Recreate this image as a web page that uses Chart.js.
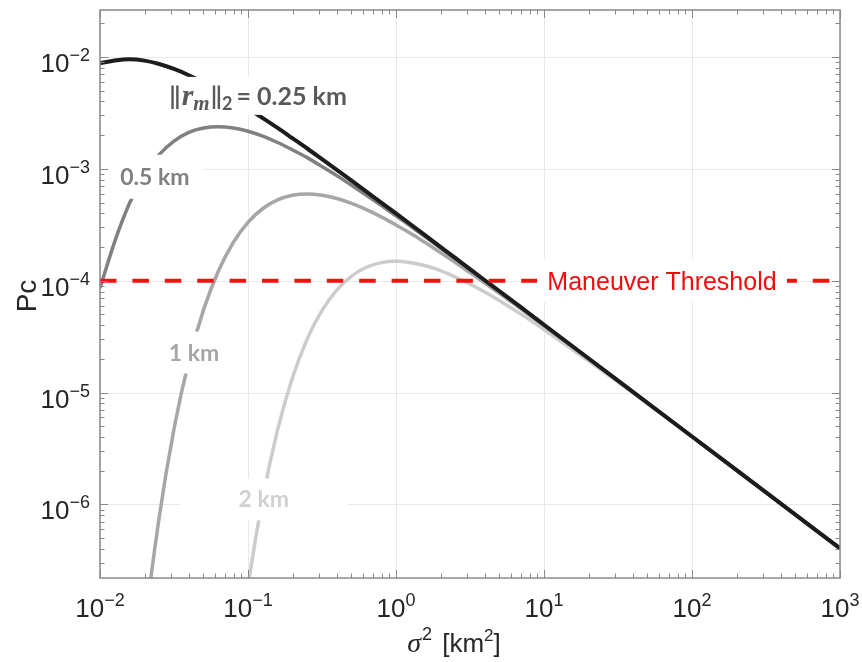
<!DOCTYPE html>
<html>
<head>
<meta charset="utf-8">
<script src="https://cdn.jsdelivr.net/npm/chart.js"></script>
<style>
  html, body { margin: 0; padding: 0; background: #fff; }
  #wrap { width: 862px; height: 662px; }
</style>
</head>
<body>
<div id="wrap"><canvas id="pcChart" width="862" height="662"></canvas></div>
<script>
// sigma^2 [km^2] sample points (log spaced)
const sigma2 = [0.01, 0.01259, 0.01585, 0.01995, 0.02512, 0.03162, 0.03981, 0.05012, 0.0631, 0.07943,
  0.1, 0.1259, 0.1585, 0.1995, 0.2512, 0.3162, 0.3981, 0.5012, 0.631, 0.7943,
  1, 1.259, 1.585, 1.995, 2.512, 3.162, 3.981, 5.012, 6.31, 7.943,
  10, 31.62, 100, 316.2, 1000];

// Pc, one list per miss distance
const pc025 = [8.8e-3, 9.3e-3, 9.54e-3, 9.28e-3, 8.66e-3, 7.81e-3, 6.87e-3, 5.92e-3, 5.01e-3, 4.19e-3,
  3.46e-3, 2.84e-3, 2.32e-3, 1.88e-3, 1.52e-3, 1.22e-3, 9.78e-4, 7.83e-4, 6.26e-4, 5.00e-4,
  3.99e-4, 3.18e-4, 2.53e-4, 2.01e-4, 1.60e-4, 1.27e-4, 1.01e-4, 8.05e-5, 6.40e-5, 5.09e-5,
  4.04e-5, 1.28e-5, 4.05e-6, 1.28e-6, 4.05e-7];
const pc05 = [8.6e-5, 2.25e-4, 4.95e-4, 8.85e-4, 1.34e-3, 1.77e-3, 2.12e-3, 2.32e-3, 2.38e-3, 2.32e-3,
  2.17e-3, 1.96e-3, 1.72e-3, 1.48e-3, 1.26e-3, 1.05e-3, 8.70e-4, 7.13e-4, 5.81e-4, 4.71e-4,
  3.81e-4, 3.06e-4, 2.46e-4, 1.97e-4, 1.57e-4, 1.26e-4, 1.00e-4, 7.98e-5, 6.36e-5, 5.06e-5,
  4.02e-5, 1.28e-5, 4.05e-6, 1.28e-6, 4.05e-7];
const pc1 = [null, null, 3.6e-9, 7.34e-8, 7.67e-7, 4.72e-6, 1.91e-5, 5.51e-5, 1.22e-4, 2.19e-4,
  3.32e-4, 4.42e-4, 5.28e-4, 5.80e-4, 5.96e-4, 5.81e-4, 5.43e-4, 4.91e-4, 4.32e-4, 3.72e-4,
  3.15e-4, 2.64e-4, 2.18e-4, 1.79e-4, 1.46e-4, 1.18e-4, 9.55e-5, 7.69e-5, 6.17e-5, 4.94e-5,
  3.95e-5, 1.27e-5, 4.04e-6, 1.28e-6, 4.05e-7];
const pc2 = [null, null, null, null, null, null, null, null, 8.4e-10, 1.74e-8,
  1.84e-7, 1.14e-6, 4.65e-6, 1.35e-5, 3.01e-5, 5.42e-5, 8.25e-5, 1.10e-4, 1.32e-4, 1.45e-4,
  1.49e-4, 1.45e-4, 1.36e-4, 1.23e-4, 1.08e-4, 9.34e-5, 7.91e-5, 6.62e-5, 5.48e-5, 4.50e-5,
  3.66e-5, 1.24e-5, 4.01e-6, 1.28e-6, 4.05e-7];

const thresholdX = [0.01, 1000];
const thresholdY = [1e-4, 1e-4];

const xTicks = [1e-2, 1e-1, 1, 10, 100, 1000];
const xTickExp = ['\u22122', '\u22121', '0', '1', '2', '3'];
const yTicks = [1e-2, 1e-3, 1e-4, 1e-5, 1e-6];
const yTickExp = ['\u22122', '\u22123', '\u22124', '\u22125', '\u22126'];

const NARROW = '"Liberation Sans Narrow", "Liberation Sans", Arial, sans-serif';
const SANS = '"Liberation Sans", Arial, sans-serif';
const LBL = 'Lato, "Open Sans", "DejaVu Sans", sans-serif';

function pts(xs, ys) {
  return xs.map((v, i) => ({ x: v, y: ys[i] }));
}

// rich text: list of runs drawn left to right
function drawRuns(ctx, runs, x0, baseY, align) {
  let total = 0;
  runs.forEach(r => { ctx.font = r.font; r.w = ctx.measureText(r.t).width + (r.pad || 0); total += r.w; });
  let px = align === 'right' ? x0 - total : (align === 'left' ? x0 : x0 - total / 2);
  runs.forEach(r => {
    ctx.font = r.font;
    ctx.fillStyle = r.color;
    ctx.textAlign = 'left';
    ctx.textBaseline = 'alphabetic';
    ctx.fillText(r.t, px, baseY + (r.dy || 0));
    px += r.w;
  });
}

const c25 = '#595959';
const curveLabels = [
  { x: 0.117, y: 4.49e-3, w: 197, h: 38, base: 9, runs: [
    { t: '\u2016', font: 'bold 25px ' + LBL, color: c25, pad: 1 },
    { t: 'r', font: 'bold italic 30px "Liberation Serif", serif', color: c25 },
    { t: 'm', font: 'bold italic 21px "Liberation Serif", serif', color: c25, dy: 5, pad: 1 },
    { t: '\u2016', font: 'bold 25px ' + LBL, color: c25 },
    { t: '2', font: 'bold 18px ' + LBL, color: c25, dy: 5, pad: 4 },
    { t: '= ', font: 'bold 25px ' + LBL, color: c25 },
    { t: '0.25 km', font: 'bold 25px ' + LBL, color: c25 }
  ] },
  { x: 0.0235, y: 8.49e-4, w: 96, h: 44, base: 8, runs: [{ t: '0.5 km', font: 'bold 23px ' + LBL, color: '#808080' }] },
  { x: 0.0432, y: 2.28e-5, w: 86, h: 42, base: 8, runs: [{ t: '1 km', font: 'bold 23px ' + LBL, color: '#a6a6a6' }] },
  { x: 0.128, y: 1.11e-6, w: 168, h: 42, base: 8, runs: [{ t: '2 km', font: 'bold 23px ' + LBL, color: '#d0d0d0' }] },
  { x: 62.7, y: 1e-4, w: 250, h: 43, base: 9, runs: [{ t: 'Maneuver Threshold', font: '25px ' + SANS, color: '#f00d0d' }] }
];

const decor = {
  id: 'decor',
  beforeDatasetsDraw(chart) {
    const { ctx, chartArea: a, scales: { x, y } } = chart;
    ctx.save();
    ctx.strokeStyle = '#e8e8e8';
    ctx.lineWidth = 1;
    ctx.beginPath();
    xTicks.forEach(v => {
      const px = Math.round(x.getPixelForValue(v)) + 0.5;
      ctx.moveTo(px, a.top); ctx.lineTo(px, a.bottom);
    });
    yTicks.forEach(v => {
      const py = Math.round(y.getPixelForValue(v)) + 0.5;
      ctx.moveTo(a.left, py); ctx.lineTo(a.right, py);
    });
    ctx.stroke();
    ctx.restore();
  },
  afterDatasetsDraw(chart) {
    const { ctx, chartArea: a, scales: { x, y } } = chart;
    ctx.save();

    // curve labels on white boxes
    curveLabels.forEach(l => {
      const cx = x.getPixelForValue(l.x), cy = y.getPixelForValue(l.y);
      ctx.fillStyle = '#fff';
      ctx.fillRect(cx - l.w / 2, cy - l.h / 2, l.w, l.h);
      drawRuns(ctx, l.runs, cx, cy + l.base, 'center');
    });

    // axes box + inward ticks on all four sides
    ctx.strokeStyle = '#888';
    ctx.lineWidth = 1.5;
    ctx.strokeRect(a.left, a.top, a.right - a.left, a.bottom - a.top);
    ctx.lineWidth = 1;
    ctx.beginPath();
    for (let d = -2; d <= 3; d++) {
      for (let m = 1; m <= 9; m++) {
        const v = m * Math.pow(10, d);
        if (v > 1000.0001) break;
        const px = Math.round(x.getPixelForValue(v)) + 0.5;
        const len = m === 1 ? 8 : 4.5;
        ctx.moveTo(px, a.bottom); ctx.lineTo(px, a.bottom - len);
        ctx.moveTo(px, a.top); ctx.lineTo(px, a.top + len);
      }
    }
    for (let d = -7; d <= -2; d++) {
      for (let m = 1; m <= 9; m++) {
        const v = m * Math.pow(10, d);
        if (v < y.min || v > y.max) continue;
        const py = Math.round(y.getPixelForValue(v)) + 0.5;
        const len = m === 1 ? 8 : 4.5;
        ctx.moveTo(a.left, py); ctx.lineTo(a.left + len, py);
        ctx.moveTo(a.right, py); ctx.lineTo(a.right - len, py);
      }
    }
    ctx.stroke();

    // tick labels 10^n
    const tk = '#262626';
    xTicks.forEach((v, i) => {
      const px = x.getPixelForValue(v);
      drawRuns(ctx, [
        { t: '10', font: '26px ' + NARROW, color: tk },
        { t: xTickExp[i], font: '18px ' + NARROW, color: tk, dy: -11 }
      ], px, a.bottom + 39, 'center');
    });
    yTicks.forEach((v, i) => {
      const py = y.getPixelForValue(v);
      drawRuns(ctx, [
        { t: '10', font: '26px ' + NARROW, color: tk },
        { t: yTickExp[i], font: '18px ' + NARROW, color: tk, dy: -11 }
      ], a.left - 10, py + 15, 'right');
    });

    // axis titles
    drawRuns(ctx, [
      { t: '\u03c3', font: 'italic 28px "Liberation Serif", serif', color: tk, pad: 1 },
      { t: '2', font: '18px ' + SANS, color: tk, dy: -12, pad: 3 },
      { t: ' [km', font: '26px ' + SANS, color: tk },
      { t: '2', font: '17px ' + SANS, color: tk, dy: -11 },
      { t: ']', font: '26px ' + SANS, color: tk }
    ], 454, 652, 'center');

    ctx.translate(36, 296);
    ctx.rotate(-Math.PI / 2);
    drawRuns(ctx, [{ t: 'Pc', font: '28px ' + NARROW, color: tk }], 0, 0, 'center');

    ctx.restore();
  }
};

new Chart('pcChart', {
  type: 'line',
  data: {
    datasets: [
      { data: pts(thresholdX, thresholdY), borderColor: '#f50f0f', borderWidth: 4, borderDash: [16.5, 15.9], tension: 0 },
      { data: pts(sigma2, pc025), borderColor: '#1c1c1c', borderWidth: 4 },
      { data: pts(sigma2, pc05), borderColor: '#808080', borderWidth: 3.5 },
      { data: pts(sigma2, pc1), borderColor: '#a6a6a6', borderWidth: 3.5 },
      { data: pts(sigma2, pc2), borderColor: '#cccccc', borderWidth: 3.5 }
    ]
  },
  options: {
    responsive: false,
    animation: false,
    devicePixelRatio: 1,
    layout: { padding: { top: 10, right: 22, left: 0, bottom: 0 } },
    plugins: { legend: { display: false }, tooltip: { enabled: false } },
    elements: {
      point: { radius: 0 },
      line: { cubicInterpolationMode: 'monotone', fill: false }
    },
    datasets: { line: { clip: 0 } },
    scales: {
      x: {
        type: 'logarithmic', min: 0.01, max: 1000,
        ticks: { display: false }, grid: { display: false }, border: { display: false },
        afterFit(s) { s.height = 84; }
      },
      y: {
        type: 'logarithmic', min: 2.2e-7, max: 0.0263,
        ticks: { display: false }, grid: { display: false }, border: { display: false },
        afterFit(s) { s.width = 100; }
      }
    }
  },
  plugins: [decor]
});
</script>
</body>
</html>
